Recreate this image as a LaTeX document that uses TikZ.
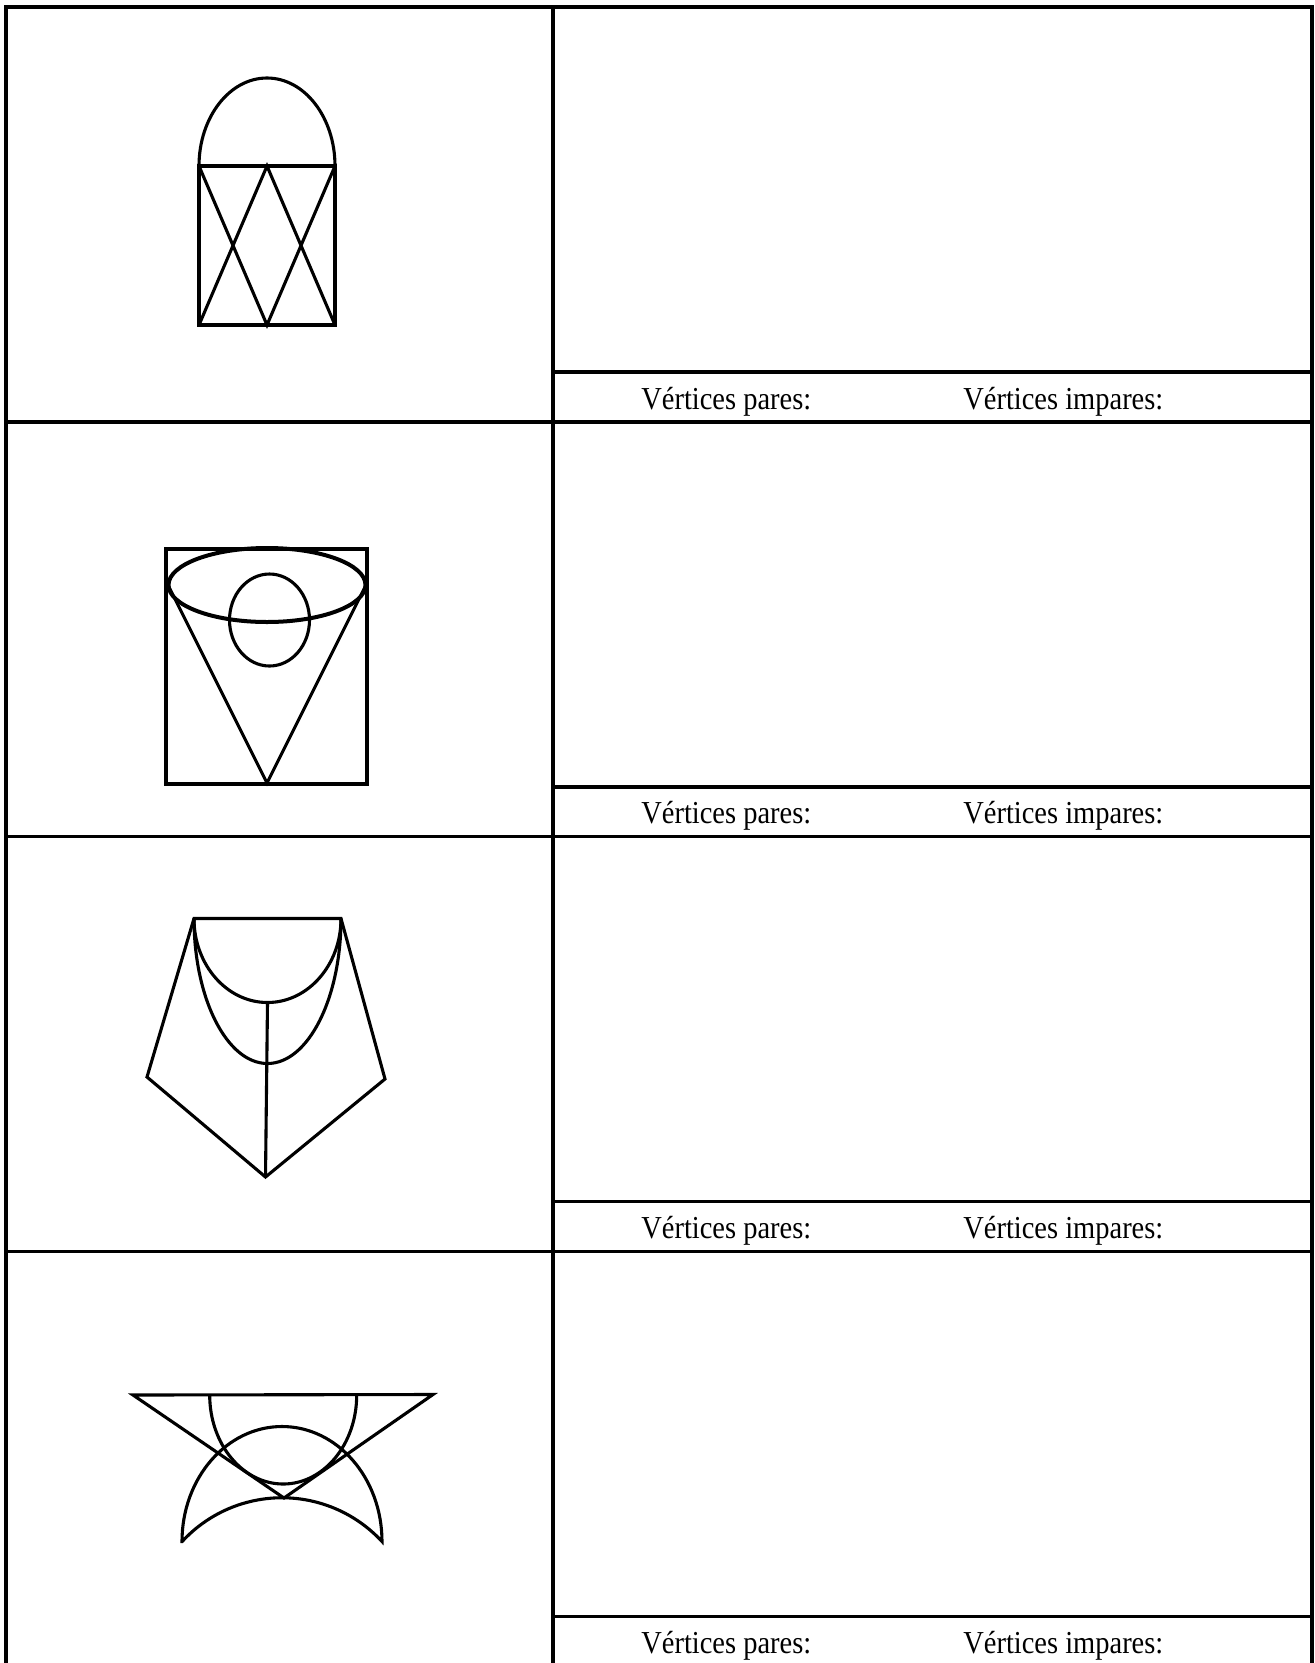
\documentclass[tikz,border=0pt]{standalone}
\usepackage{fontspec}
\newfontfamily\labelfont[FakeStretch=0.89]{Liberation Serif}
\usetikzlibrary{calc}

\begin{document}
\begin{tikzpicture}[
  x=0.2mm, y=-0.2mm,
  tablerule/.style={line width=0.68mm},
  figline/.style={line width=0.62mm, line join=miter},
  rim/.style={figline, line width=0.8mm},
  lbl/.style={font=\labelfont\fontsize{18.2}{21}\selectfont, anchor=base west, inner sep=0pt}
]
\useasboundingbox (0,0) rectangle (1315,1663);

% table: frame, middle divider, rows and answer strips
\draw[tablerule] (6,1663) -- (6,7) -- (1312,7) -- (1312,1663);
\draw[tablerule] (553,7) -- (553,1663);
\foreach \r in {0,1,2,3}{
  \pgfmathsetmacro{\rowtop}{7+414.8*\r}
  \ifnum\r>0 \draw[tablerule] (6,\rowtop) -- (1312,\rowtop); \fi
  \draw[tablerule] (553,{\rowtop+365}) -- (1312,{\rowtop+365});
  \node[lbl] (pares\r) at (641,{\rowtop+402}) {Vértices pares:};
  \node[lbl] (impares\r) at (963,{\rowtop+402}) {Vértices impares:};
}

% figure 1: arch over a crossed box
\coordinate (a1) at (199,166);
\coordinate (b1) at (335,166);
\coordinate (c1) at (335,325);
\coordinate (d1) at (199,325);
\coordinate (m1) at (267,166);
\coordinate (n1) at (267,325);
\draw[figline] (d1) rectangle (b1);
\draw[figline] (a1) arc[start angle=180, end angle=360, x radius=68, y radius=88];
\draw[figline] (a1) -- (n1) -- (b1);
\draw[figline] (d1) -- (m1) -- (c1);

% figure 2: cone in a box
\coordinate (a2) at (168.5,586);
\coordinate (b2) at (365.5,586);
\coordinate (v2) at (267,783);
\draw[figline] (166,549) rectangle (367,784);
\draw[rim] (267,585) ellipse[x radius=98.5, y radius=37];
\draw[figline] (269.5,620) ellipse[x radius=40, y radius=46];
\draw[figline] (a2) -- (v2) -- (b2);

% figure 3: pentagon with two hanging arcs
\coordinate (a3) at (194,918.5);
\coordinate (b3) at (341,918.5);
\coordinate (l3) at (147,1077);
\coordinate (r3) at (385,1079);
\coordinate (t3) at (265.5,1177);
\coordinate (u3) at (267.5,1002.5);
\draw[figline] (t3) -- (l3) -- (a3) -- (b3) -- (r3) -- cycle;
\draw[figline] (u3) -- (t3);
\draw[figline] (a3) arc[start angle=180, end angle=0, x radius=73.5, y radius=84];
\draw[figline] (a3) arc[start angle=180, end angle=0, x radius=73.5, y radius=145];

% figure 4: triangle, cup and crescent
\coordinate (a4) at (133,1395);
\coordinate (b4) at (433,1394.5);
\coordinate (v4) at (284,1498);
\coordinate (p4) at (182,1541.5);
\draw[figline] (a4) -- (b4) -- (v4) -- cycle;
\draw[figline] (209.7,1395) arc[start angle=180, end angle=0, x radius=73.5, y radius=89];
\draw[figline] (p4) arc[start angle=180, end angle=360, x radius=100, y radius=115]
  arc[start angle=-42.7, end angle=-137.3, radius=136] -- cycle;
\end{tikzpicture}
\end{document}
